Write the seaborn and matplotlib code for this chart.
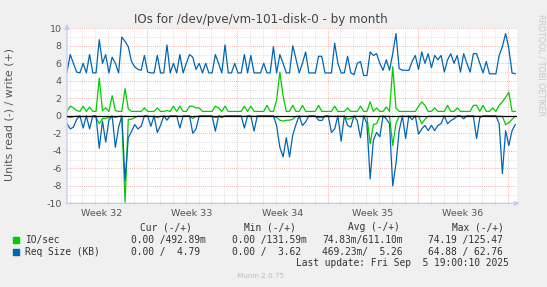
import numpy as np
import pandas as pd
import matplotlib
matplotlib.use("Agg")
import matplotlib.pyplot as plt
import seaborn as sns

# ---------------- data ----------------
# samples every 0.25 day from the left edge of the graph
io_write = [0.5, 1.1, 0.9, 0.6, 0.5, 1.1, 0.5, 1.0, 0.5, 0.5, 4.3, 0.6, 0.9, 0.5, 2.3, 0.6, 0.5, 0.5, 3.1, 0.8,
            0.5, 0.5, 0.5, 0.5, 0.9, 0.5, 0.5, 0.5, 0.9, 0.5, 0.5, 0.6, 0.5, 1.1, 0.5, 1.1, 0.5, 0.5, 1.1, 1.1,
            0.9, 0.9, 0.5, 0.5, 0.5, 0.5, 1.1, 0.9, 0.5, 1.1, 0.5, 0.5, 0.5, 0.5, 0.5, 1.1, 0.5, 1.1, 0.5, 0.5,
            0.5, 0.5, 1.2, 0.5, 0.5, 1.8, 5.0, 2.3, 0.5, 0.5, 1.2, 0.5, 0.5, 1.2, 0.5, 0.5, 0.5, 0.5, 1.2, 0.5,
            0.5, 0.5, 0.5, 1.1, 0.5, 0.5, 0.5, 0.9, 0.5, 0.5, 0.5, 1.1, 0.5, 0.5, 1.6, 0.5, 0.9, 0.5, 0.5, 1.0,
            0.5, 5.6, 0.9, 0.5, 0.5, 0.5, 0.5, 0.5, 0.5, 1.1, 1.6, 1.2, 0.5, 0.5, 0.9, 0.5, 0.5, 0.5, 1.2, 0.5,
            0.5, 0.9, 0.5, 0.5, 0.5, 0.5, 1.2, 1.2, 0.5, 1.2, 0.5, 0.5, 0.9, 0.5, 1.2, 1.6, 2.1, 2.7, 0.5, 0.5]

io_read = [0.1, 0.2, 0.1, 0.05, 0.05, 0.1, 0.05, 0.1, 0.05, 0.2, 0.9, 0.3, 0.3, 0.2, 0.05, 0.2, 0.05, 0.05, 9.9, 0.4,
           0.4, 0.2, 0.05, 0.05, 0.05, 0.05, 0.05, 0.05, 0.2, 0.05, 0.05, 0.05, 0.05, 0.05, 0.05, 0.05, 0.05, 0.05, 0.05, 0.3,
           0.05, 0.05, 0.05, 0.05, 0.05, 0.05, 0.2, 0.05, 0.05, 0.05, 0.05, 0.05, 0.05, 0.05, 0.05, 0.05, 0.05, 0.05, 0.05, 0.05,
           0.05, 0.05, 0.05, 0.05, 0.05, 0.2, 0.5, 0.6, 0.5, 0.5, 0.4, 0.05, 0.05, 0.05, 0.05, 0.05, 0.05, 0.05, 0.2, 0.2,
           0.05, 0.05, 0.05, 0.05, 0.05, 0.05, 0.05, 0.4, 0.3, 0.05, 0.05, 0.05, 0.05, 0.05, 3.2, 1.0, 0.9, 0.05, 0.05, 0.05,
           0.05, 3.4, 0.9, 0.05, 0.05, 0.05, 0.05, 0.05, 0.05, 0.05, 0.9, 0.4, 0.05, 0.05, 0.05, 0.05, 0.05, 0.05, 0.05, 0.05,
           0.05, 0.05, 0.05, 0.05, 0.05, 0.05, 0.05, 0.05, 0.05, 0.05, 0.05, 0.05, 0.05, 0.05, 0.05, 0.05, 1.0, 0.8, 0.4, 0.05]

req_write = [5.0, 7.0, 6.0, 5.0, 4.9, 6.0, 4.9, 7.0, 4.9, 4.9, 8.7, 6.0, 7.0, 4.9, 6.7, 6.0, 4.9, 9.0, 8.5, 7.9,
             6.2, 5.6, 5.3, 5.2, 6.9, 5.0, 4.9, 4.9, 6.9, 4.9, 4.9, 8.1, 4.9, 6.0, 4.9, 7.0, 4.9, 6.0, 7.0, 6.7,
             5.3, 6.0, 4.9, 6.0, 4.9, 4.9, 7.0, 6.0, 4.9, 8.1, 4.9, 4.9, 6.0, 4.9, 4.9, 7.0, 4.9, 6.9, 4.9, 4.9,
             4.9, 6.0, 4.9, 4.9, 7.9, 4.9, 7.0, 6.0, 4.9, 4.9, 8.0, 6.5, 4.9, 6.0, 7.3, 4.9, 4.9, 4.9, 6.8, 6.8,
             4.9, 4.9, 4.9, 8.3, 6.0, 4.9, 4.9, 6.8, 4.9, 4.7, 6.0, 6.2, 4.6, 4.6, 7.3, 6.9, 7.1, 6.0, 5.2, 6.4,
             5.2, 7.1, 9.4, 5.4, 5.2, 5.2, 5.2, 6.2, 6.9, 5.3, 7.3, 6.0, 7.1, 5.5, 6.9, 6.4, 6.9, 5.0, 6.4, 7.1,
             6.0, 6.9, 5.0, 7.1, 6.0, 5.0, 7.1, 7.1, 6.0, 4.9, 6.2, 4.8, 4.8, 4.8, 6.9, 7.9, 9.4, 7.7, 4.9, 4.8]

req_read = [0.9, 1.5, 1.3, 0.4, 0, 1.4, 0, 1.5, 0, 0, 3.7, 0.6, 3.0, 0.5, 0, 3.6, 1.3, 0, 7.4, 2.5,
            1.8, 1.0, 1.5, 1.2, 0, 0, 1.2, 0, 1.9, 1.1, 0, 0.5, 0, 0, 0, 1.4, 0, 0, 0, 2.0,
            1.5, 0, 0, 0, 0, 0, 1.75, 0, 0.2, 0, 0, 0, 0, 0, 0, 1.4, 0, 0, 1.75, 0,
            0, 0, 0, 0, 0, 1.1, 3.6, 4.7, 2.5, 4.7, 2.2, 1.0, 0, 1.1, 0.7, 0, 0, 0, 0.5, 0.55,
            0, 0, 1.9, 1.5, 0, 2.9, 0, 1.1, 1.3, 0, 0.55, 2.5, 0, 0.9, 7.2, 2.8, 1.9, 2.4, 0, 0.35,
            0.9, 8.0, 5.5, 1.7, 0, 2.6, 0, 0.45, 0, 2.1, 1.5, 1.1, 1.7, 1.1, 1.7, 1.1, 0.9, 0, 0.9, 0.55,
            0.35, 0, 0, 0.35, 0, 0, 0, 2.6, 0.2, 0, 0, 0, 0, 0, 0.9, 6.6, 1.7, 3.4, 1.7, 1.0]

week_labels = ["Week 32", "Week 33", "Week 34", "Week 35", "Week 36"]
legend_names = ["IO/sec", "Req Size (KB)"]
legend_headers = ["Cur (-/+)", "Min (-/+)", "Avg (-/+)", "Max (-/+)"]
legend_io = ["0.00 /492.89m", "0.00 /131.59m", "74.83m/611.10m", "74.19 /125.47"]
legend_req = ["0.00 /  4.79", "0.00 /  3.62", "469.23m/  5.26", "64.88 / 62.76"]

STEP = 0.25
days = np.arange(len(io_write)) * STEP

df = pd.DataFrame({
    "day": np.concatenate([days] * 4),
    "value": np.concatenate([io_write, -np.array(io_read), req_write, -np.array(req_read)]),
    "series": (["io_w"] * len(days) + ["io_r"] * len(days) + ["rq_w"] * len(days) + ["rq_r"] * len(days)),
})

GREEN = "#00CC00"
BLUE = "#0066B3"
BG = "#F0F0F0"

W, H = 547, 287
fig = plt.figure(figsize=(W / 100, H / 100), dpi=100, facecolor=BG)


def fx(px):
    return px / W


def fy(py):
    return 1 - py / H


L, R, T, B = 67, 517, 28.3, 203.3
ax = fig.add_axes([fx(L), fy(B), fx(R - L), (B - T) / H])
ax.set_facecolor("white")
XMAX = (R - L) / 12.9
ax.set_xlim(0, XMAX)
ax.set_ylim(-10, 10)

# grid
first_week = 6.2
for d in np.arange(first_week - 6, XMAX, 1.0):
    major = abs(((d - first_week) / 7) - round((d - first_week) / 7)) < 1e-6
    ax.axvline(d, color="#E8A0A0" if major else "#D8D8D8", lw=0.6,
               ls=(0, (1, 1.5)), zorder=1)
for v in range(-10, 11):
    ax.axhline(v, color="#E8A0A0" if v % 2 == 0 else "#D8D8D8", lw=0.6,
               ls=(0, (1, 1.5)), zorder=1)

palette = {"io_w": GREEN, "io_r": GREEN, "rq_w": BLUE, "rq_r": BLUE}
for s in ["io_w", "io_r", "rq_w", "rq_r"]:
    sns.lineplot(data=df[df.series == s], x="day", y="value", color=palette[s],
                 lw=0.9, ax=ax, legend=False, zorder=3, estimator=None)

ax.axhline(0, color="black", lw=0.9, zorder=4)

for sp in ax.spines.values():
    sp.set_visible(False)
ax.set_xlabel("")
ax.set_ylabel("")
ax.set_yticks(range(-10, 11, 2))
ax.set_yticklabels([str(v) for v in range(-10, 11, 2)], fontsize=6.8, color="#555555")
ax.tick_params(axis="y", length=0, pad=4)
week_centres = [first_week - 3.5 + 7 * k for k in range(len(week_labels))]
ax.set_xticks(week_centres)
ax.set_xticklabels(week_labels, fontsize=6.8, color="#555555")
ax.tick_params(axis="x", length=0, pad=4)
ax.set_xticks(np.arange(first_week - 6, XMAX, 1.0), minor=True)
ax.tick_params(axis="x", which="minor", length=2, color="#C0C0C0", direction="inout")

# axis arrows
AX_COL = "#C8C8F0"
ax.annotate("", xy=(0, 1.04), xytext=(0, -0.01), xycoords="axes fraction",
            arrowprops=dict(arrowstyle="-|>", color=AX_COL, lw=0.9, mutation_scale=7),
            annotation_clip=False)
ax.annotate("", xy=(1.012, 0), xytext=(-0.008, 0), xycoords="axes fraction",
            arrowprops=dict(arrowstyle="-|>", color=AX_COL, lw=0.9, mutation_scale=7),
            annotation_clip=False)

# texts
fig.text(fx(260.5), fy(19.5), "IOs for /dev/pve/vm-101-disk-0 - by month",
         ha="center", va="center", fontsize=8.6, color="#444444")
fig.text(fx(10), fy(114), "Units read (-) / write (+)", rotation=90,
         ha="center", va="center", fontsize=7.9, color="#555555")
fig.text(fx(541), fy(14), "RRDTOOL / TOBI OETIKER", rotation=270,
         ha="center", va="top", fontsize=5.8, color="#C8C8C8")

MONO = dict(family="DejaVu Sans Mono", fontsize=6.9, color="#333333", va="center")
for x, t in zip([140, 244, 348, 452], legend_headers):
    fig.text(fx(x), fy(227.3), t, **MONO)
for (yy, name, vals, col) in [(240, legend_names[0], legend_io, GREEN),
                             (252, legend_names[1], legend_req, BLUE)]:
    fig.patches.append(plt.Rectangle((fx(13), fy(yy + 3)), fx(6), 6 / H,
                                     transform=fig.transFigure, color=col, figure=fig))
    fig.text(fx(25), fy(yy), name, **MONO)
    for x, t in zip([131, 232, 322, 428], vals):
        fig.text(fx(x), fy(yy), t, **MONO)
fig.text(fx(509), fy(263.3), "Last update: Fri Sep  5 19:00:10 2025", ha="right",
         **{k: v for k, v in MONO.items()})
fig.text(fx(260.5), fy(276), "Munin 2.0.75", ha="center", va="center",
         fontsize=5.2, color="#BBBBBB")

fig.savefig("out.png", dpi=100, facecolor=BG)
